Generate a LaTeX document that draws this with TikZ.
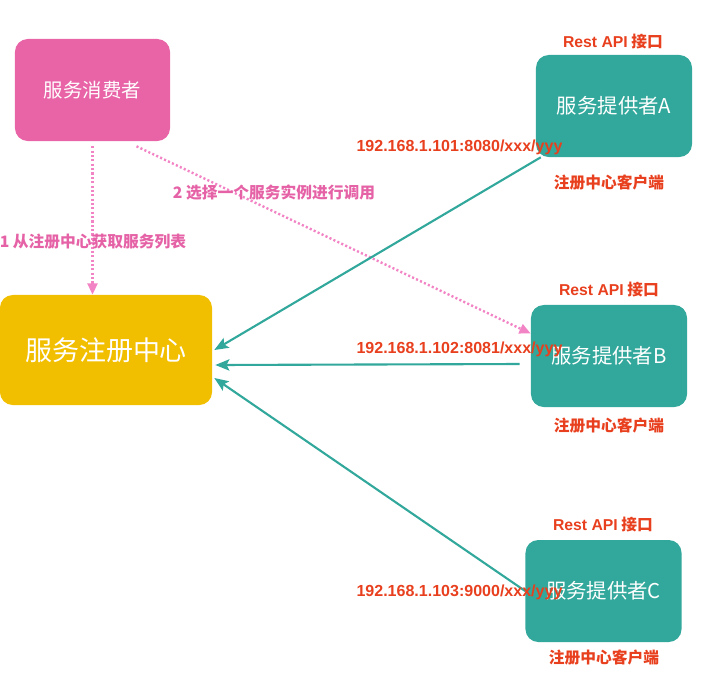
\documentclass[tikz,border=0pt]{standalone}
\usepackage{fontspec}
\setmainfont{Noto Sans CJK SC}
\newfontfamily\ipfont{Liberation Sans}
\usetikzlibrary{calc,arrows.meta}
\definecolor{consumerpink}{HTML}{E864A7}
\definecolor{labelpink}{HTML}{E562A6}
\definecolor{dotpink}{HTML}{F283C4}
\definecolor{regyellow}{HTML}{F2BF00}
\definecolor{provteal}{HTML}{31A89B}
\definecolor{iored}{HTML}{E8401E}
\tikzset{
	box/.style={rounded corners=0.32cm, draw=none, text=white, inner sep=0pt},
	provbox/.style={box, fill=provteal, minimum width=3.9cm, minimum height=2.55cm, font=\fontsize{14.5}{16}\selectfont},
	redlabel/.style={text=iored, font=\fontsize{11.2}{13}\selectfont\bfseries, inner sep=1pt},
	pinklabel/.style={text=labelpink, font=\fontsize{11.2}{13}\selectfont\bfseries, inner sep=1pt},
	callline/.style={draw=dotpink, line width=1.7pt, dash pattern=on 1.5pt off 1.6pt, -{Triangle[length=8pt,width=7pt]}},
	regline/.style={draw=provteal, line width=1.5pt, -{Stealth[length=10pt,width=8pt,inset=2pt]}}
}

\begin{document}
\begin{tikzpicture}[x=0.025cm, y=-0.025cm]
		%%%%% START %%%%%
		\useasboundingbox (0, 0) rectangle (701, 672);
		
		\node[box, fill=consumerpink, minimum width=3.875cm, minimum height=2.55cm, font=\fontsize{13.8}{15}\selectfont] (consumer) at (92.5, 90) {服务消费者};
		\node[box, fill=regyellow, minimum width=5.3cm, minimum height=2.75cm, font=\fontsize{19.2}{21}\selectfont] (registry) at (106, 350) {服务注册中心};
		
		\node[provbox] (provA) at (614, 106) {服务提供者A};
		\node[provbox] (provB) at (609, 356) {服务提供者B};
		\node[provbox] (provC) at (603.5, 591) {服务提供者C};
		
		\node[redlabel] (apiA) at (613, 42) {{\ipfont\bfseries Rest API} 接口};
		\node[redlabel] (apiB) at (609, 290) {{\ipfont\bfseries Rest API} 接口};
		\node[redlabel] (apiC) at (603, 525) {{\ipfont\bfseries Rest API} 接口};
		
		\node[redlabel] (clientA) at (609, 182) {注册中心客户端};
		\node[redlabel] (clientB) at (609, 425) {注册中心客户端};
		\node[redlabel] (clientC) at (604, 657) {注册中心客户端};
		
		% consumer side
		\draw[callline] ($(consumer.south)+(0, 5)$) -- (consumer.south |- registry.north);
		\draw[callline] ($(consumer.south)+(44, 5)$) -- (provB.164);
		\node[pinklabel] (fetchlabel) at (93, 242) {1 从注册中心获取服务列表};
		\node[pinklabel] (calllabel) at (274, 193) {2 选择一个服务实例进行调用};
		
		% registration
		\draw[regline] (provA.215) -- ($(registry.east)+(2, 0)$);
		\draw[regline] ($(provB.west)+(-11, 8)$) -- ($(registry.east)+(3, 15)$);
		\draw[regline] (provC.west) -- ($(registry.east)+(2, 28)$);
		
		\node[redlabel, font=\fontsize{11.4}{13}\selectfont\ipfont\bfseries] (ipA) at (459.5, 147) {192.168.1.101:8080/xxx/yyy};
		\node[redlabel, font=\fontsize{11.4}{13}\selectfont\ipfont\bfseries] (ipB) at (459.5, 349) {192.168.1.102:8081/xxx/yyy};
		\node[redlabel, font=\fontsize{11.4}{13}\selectfont\ipfont\bfseries] (ipC) at (459.5, 592) {192.168.1.103:9000/xxx/yyy};
		%%%%% END %%%%%
	\end{tikzpicture}
\end{document}
